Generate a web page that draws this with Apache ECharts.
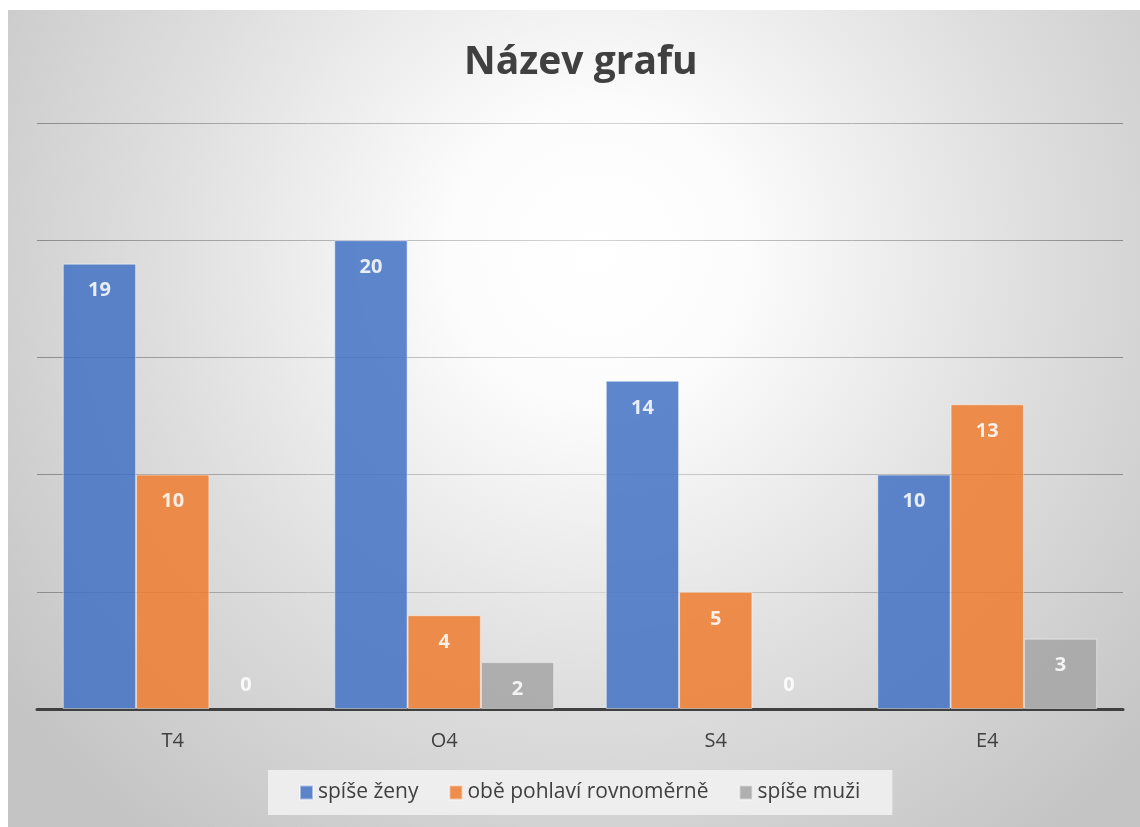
<!DOCTYPE html>
<html>
<head>
<meta charset="utf-8">
<script src="https://cdn.jsdelivr.net/npm/echarts@6/dist/echarts.min.js"></script>
<style>
  html, body { margin: 0; padding: 0; background: #ffffff; }
  #chart { position: absolute; left: 8px; top: 10px; width: 1132px; height: 817px; }
</style>
</head>
<body>
<div id="chart"></div>
<script>
// data
const categories = ['T4', 'O4', 'S4', 'E4'];
const seriesNames = ['spíše ženy', 'obě pohlaví rovnoměrně', 'spíše muži'];
const zeny = [19, 20, 14, 10];
const obe = [10, 4, 5, 13];
const muzi = [0, 2, 0, 3];
const barColors = ['#4472C4', '#ED7D31', '#A5A5A5'];

const font = '"Open Sans", Lato, sans-serif';

// nula se v excelu kresli nad osou
const makeData = (values) => values.map(v => {
  if (v === 0) {
    return {
      value: v,
      itemStyle: { borderWidth: 0 },
      label: { position: 'insideBottom', distance: 14 }
    };
  }
  return v;
});

const makeSeries = (name, values, color) => ({
  name: name,
  type: 'bar',
  barGap: '0%',
  barCategoryGap: '19%',
  data: makeData(values),
  itemStyle: {
    color: color,
    opacity: 0.86,
    borderColor: 'rgba(255,255,255,0.55)',
    borderWidth: 1
  },
  label: {
    show: true,
    position: 'insideTop',
    distance: 17,
    color: '#ffffff',
    fontWeight: 'bold',
    fontSize: 20,
    fontFamily: font
  },
  emphasis: { disabled: true }
});

const gridLine = {
  type: 'linear', x: 0, y: 0, x2: 1, y2: 0,
  colorStops: [
    { offset: 0, color: '#8c8c8c' },
    { offset: 0.5, color: '#d6d6d6' },
    { offset: 1, color: '#8c8c8c' }
  ]
};

const getOption = () => {
  return {
    backgroundColor: {
      type: 'radial', x: 0.52, y: 0.3, r: 0.9,
      colorStops: [
        { offset: 0, color: '#ffffff' },
        { offset: 0.2, color: '#fcfcfc' },
        { offset: 0.6, color: '#dedede' },
        { offset: 1, color: '#c4c4c4' }
      ]
    },
    animation: false,
    title: {
      text: 'Název grafu',
      left: 451,
      top: 28,
      textStyle: {
        fontFamily: font,
        fontSize: 39,
        fontWeight: 'bold',
        color: '#404040'
      }
    },
    legend: {
      data: seriesNames,
      left: 260,
      top: 760,
      itemWidth: 13,
      itemHeight: 14,
      itemGap: 30,
      icon: 'rect',
      padding: [12, 32, 12, 31],
      backgroundColor: 'rgba(242,242,242,0.85)',
      textStyle: {
        fontFamily: font,
        fontSize: 21,
        color: '#404040'
      }
    },
    grid: {
      left: 29,
      right: 17,
      top: 113,
      bottom: 118
    },
    xAxis: {
      type: 'category',
      data: categories,
      axisLine: { lineStyle: { color: '#404040', width: 3 } },
      axisTick: { show: false },
      axisLabel: {
        margin: 22,
        fontFamily: font,
        fontSize: 20,
        color: '#404040'
      }
    },
    yAxis: {
      type: 'value',
      min: 0,
      max: 25,
      interval: 5,
      axisLabel: { show: false },
      axisLine: { show: false },
      axisTick: { show: false },
      splitLine: {
        lineStyle: { color: gridLine, width: 1 }
      }
    },
    series: [
      makeSeries(seriesNames[0], zeny, barColors[0]),
      makeSeries(seriesNames[1], obe, barColors[1]),
      makeSeries(seriesNames[2], muzi, barColors[2])
    ]
  };
};

const chart = echarts.init(document.getElementById('chart'));
chart.setOption(getOption());
</script>
</body>
</html>
